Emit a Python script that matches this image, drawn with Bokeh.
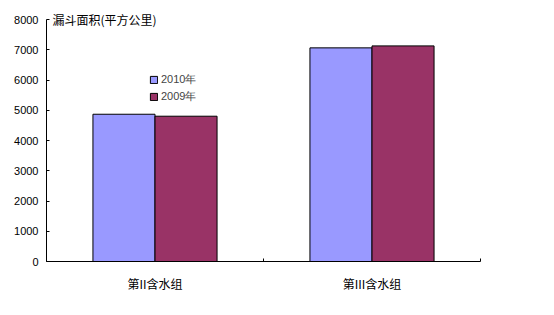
from bokeh.plotting import figure
from bokeh.models import ColumnDataSource, Range1d, FixedTicker, Legend, LegendItem, Label
from bokeh.transform import dodge
from bokeh.embed import file_html
from bokeh.resources import INLINE

categories = ["第II含水组", "第III含水组"]
series_names = ["2010年", "2009年"]
values_2010 = [4870, 7065]
values_2009 = [4805, 7130]
y_ticks = [0, 1000, 2000, 3000, 4000, 5000, 6000, 7000, 8000]
y_title = "漏斗面积(平方公里)"
colors = ["#9999FF", "#993366"]

centers = [i + 0.5 for i in range(len(categories))]
source = ColumnDataSource(dict(x=centers, v2010=values_2010, v2009=values_2009))

p = figure(width=554, height=315, output_backend="svg", toolbar_location=None,
           x_range=Range1d(0, len(categories)), y_range=Range1d(0, 8400),
           min_border_left=46, min_border_right=74, min_border_top=7, min_border_bottom=54)
p.background_fill_color = "white"
p.border_fill_color = "white"
p.outline_line_color = None
p.grid.grid_line_color = None

bw = 0.286
r1 = p.vbar(x=dodge("x", -0.143, range=p.x_range), top="v2010", width=bw, source=source,
            fill_color=colors[0], line_color="black", line_width=1)
r2 = p.vbar(x=dodge("x", 0.143, range=p.x_range), top="v2009", width=bw, source=source,
            fill_color=colors[1], line_color="black", line_width=1)

# x axis
p.xaxis.ticker = FixedTicker(ticks=centers, minor_ticks=list(range(len(categories) + 1)))
p.xaxis.major_label_overrides = {c: lab for c, lab in zip(centers, categories)}
p.xaxis.major_tick_line_color = None
p.xaxis.minor_tick_in = 3
p.xaxis.minor_tick_out = 0
p.xaxis.minor_tick_line_color = "black"
p.xaxis.axis_line_color = "black"
p.xaxis.major_label_text_font = "Noto Sans CJK SC"
p.xaxis.major_label_text_font_size = "12px"
p.xaxis.major_label_text_color = "black"
p.xaxis.major_label_standoff = 7

# y axis
p.yaxis.ticker = FixedTicker(ticks=y_ticks)
p.yaxis.bounds = (y_ticks[0], y_ticks[-1])
p.yaxis.minor_tick_line_color = None
p.yaxis.major_tick_in = 3
p.yaxis.major_tick_out = 0
p.yaxis.major_tick_line_color = "black"
p.yaxis.axis_line_color = "black"
p.yaxis.major_label_text_font = "Liberation Sans"
p.yaxis.major_label_text_font_size = "11px"
p.yaxis.major_label_text_color = "black"
p.yaxis.major_label_standoff = 8

# y title near top of the y axis
title = Label(x=0, y=y_ticks[-1], text=y_title, x_offset=6, y_offset=0,
              text_font="Noto Sans CJK SC", text_font_size="12px", text_color="black",
              text_baseline="middle")
p.add_layout(title)

legend = Legend(items=[LegendItem(label=series_names[0], renderers=[r1]),
                       LegendItem(label=series_names[1], renderers=[r2])],
                location=(103, 157), orientation="vertical",
                label_text_font="Liberation Sans", label_text_font_size="11px",
                glyph_width=9, glyph_height=9, spacing=2, padding=0, margin=0,
                label_standoff=3, label_height=14,
                border_line_color=None, background_fill_alpha=0)
p.add_layout(legend, "center")

open("out.html", "w").write(file_html(p, INLINE))
